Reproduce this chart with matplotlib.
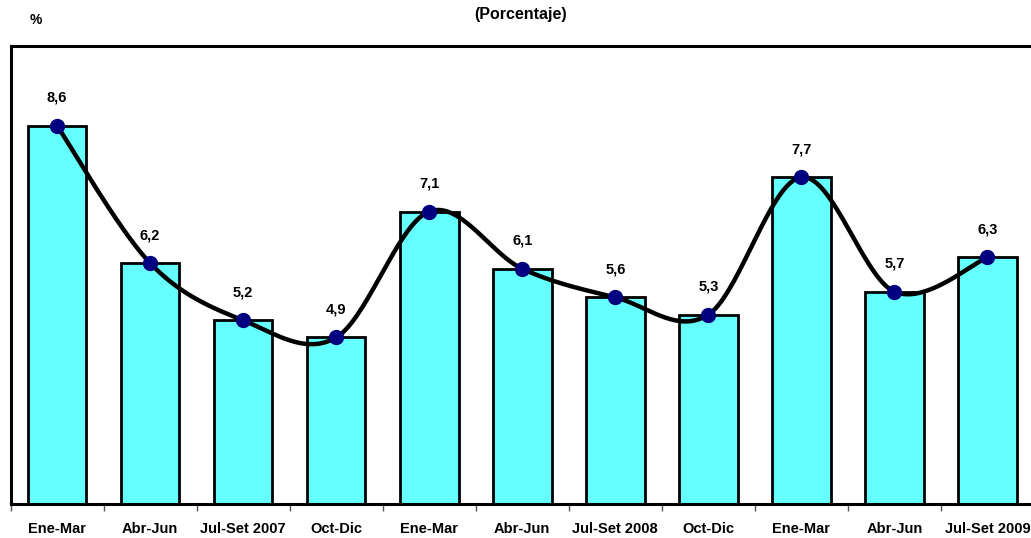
import numpy as np
import matplotlib
matplotlib.use("Agg")
import matplotlib.pyplot as plt
from matplotlib import font_manager

categories = ["Ene-Mar", "Abr-Jun", "Jul-Set 2007", "Oct-Dic", "Ene-Mar", "Abr-Jun",
              "Jul-Set 2008", "Oct-Dic", "Ene-Mar", "Abr-Jun", "Jul-Set 2009"]
values = [8.6, 6.2, 5.2, 4.9, 7.1, 6.1, 5.6, 5.3, 7.7, 5.7, 6.3]
value_labels = ["8,6", "6,2", "5,2", "4,9", "7,1", "6,1", "5,6", "5,3", "7,7", "5,7", "6,3"]

names = {f.name for f in font_manager.fontManager.ttflist}
fam = ["Liberation Sans Narrow", "Liberation Sans", "DejaVu Sans"]
fam = [f for f in fam if f in names] or ["DejaVu Sans"]
plt.rcParams["font.family"] = fam

fig = plt.figure(figsize=(10.31, 5.38), dpi=100)
ax = fig.add_axes([10.5 / 1031, 1 - 503.5 / 538, (1034 - 10.5) / 1031, (503.5 - 45.5) / 538])

x = np.arange(len(values))
ax.bar(x, values, width=0.63, color="#66FFFF", edgecolor="black", linewidth=2.0, zorder=2, bottom=0)

# Smoothed (Catmull-Rom) line through the points
pts = np.column_stack([x, values]).astype(float)
sx, sy = [], []
n = len(pts)
for i in range(n - 1):
    p0 = pts[i - 1] if i > 0 else pts[i]
    p1 = pts[i]
    p2 = pts[i + 1]
    p3 = pts[i + 2] if i + 2 < n else pts[i + 1]
    c1 = p1 + (p2 - p0) / 6.0
    c2 = p2 - (p3 - p1) / 6.0
    t = np.linspace(0, 1, 40)[:, None]
    seg = (1 - t) ** 3 * p1 + 3 * (1 - t) ** 2 * t * c1 + 3 * (1 - t) * t ** 2 * c2 + t ** 3 * p2
    sx.extend(seg[:, 0]); sy.extend(seg[:, 1])
ax.plot(sx, sy, color="black", linewidth=3.2, zorder=3, solid_capstyle="round")
ax.plot(x, values, linestyle="none", marker="o", markersize=10, color="#000080", zorder=4)

for xi, v, lab in zip(x, values, value_labels):
    ax.annotate(lab, (xi, v), xytext=(0, 15), textcoords="offset points", ha="center",
                va="bottom", fontsize=10.5, fontweight="bold")

ax.set_xlim(-0.5, 10.5)
ax.set_ylim(2, 10)
ax.set_yticks([])
ax.set_xticks(x)
ax.set_xticklabels(categories, fontsize=10.5, fontweight="bold")
ax.tick_params(axis="x", which="major", length=0, pad=13)
ax.set_xticks(np.arange(-0.5, 10.5, 1.0), minor=True)
ax.tick_params(axis="x", which="minor", length=5, width=1, direction="out", color="#555555")

for s in ["top", "left", "bottom"]:
    ax.spines[s].set_linewidth(2.2)
ax.spines["right"].set_visible(False)

fig.text(521 / 1031, 1 - 15 / 538, "(Porcentaje)", ha="center", va="center", fontsize=11.5, fontweight="bold")
fig.text(36 / 1031, 1 - 20 / 538, "%", ha="center", va="center", fontsize=10, fontweight="bold")

fig.savefig("out.png", dpi=100)
